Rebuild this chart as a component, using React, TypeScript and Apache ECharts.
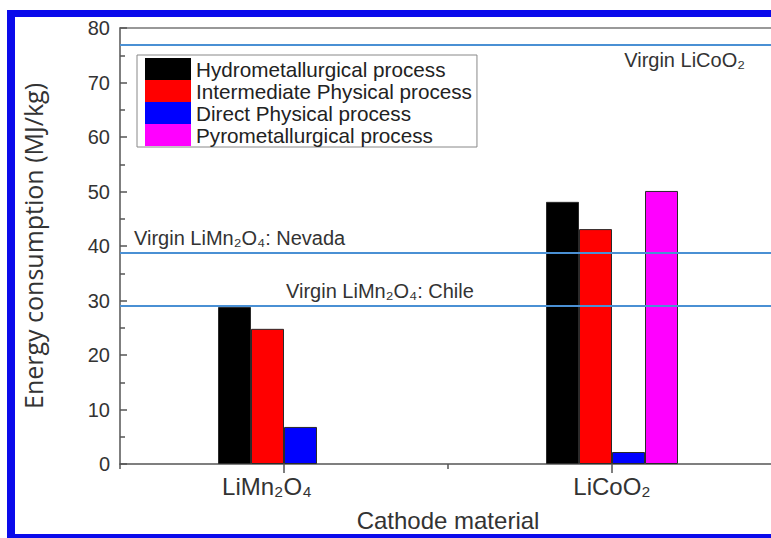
import React, { useEffect, useRef } from "react";
import * as echarts from "echarts";

const categories = ["LiMn₂O₄", "LiCoO₂"];
const seriesNames = [
  "Hydrometallurgical process",
  "Intermediate Physical process",
  "Direct Physical process",
  "Pyrometallurgical process",
];
const hydro = [28.8, 48.1];
const intermediate = [24.8, 43.1];
const direct = [6.8, 2.2];
const pyro: (number | null)[] = [null, 50.1];
const barColors = ["#000000", "#ff0000", "#0000ff", "#ff00ff"];
const refNames = ["Virgin LiCoO₂", "Virgin LiMn₂O₄: Nevada", "Virgin LiMn₂O₄: Chile"];
const refValues = [76.9, 38.7, 29.0];
const yTicks = { min: 0, max: 80, interval: 10 };

const SANS = "'Liberation Sans', Arial, sans-serif";

export default function App() {
  const ref = useRef<HTMLDivElement>(null);
  useEffect(() => {
    if (!ref.current) return;
    const chart = echarts.init(ref.current, null, { renderer: "svg" });
    const values = [hydro, intermediate, direct, pyro];
    const refLabelCfg = [
      { position: "insideEndBottom", distance: [31, 5] },
      { position: "insideStartTop", distance: [14, 5] },
      { position: "insideStartTop", distance: [166, 5] },
    ];
    const series: any[] = seriesNames.map((name, i) => ({
      name,
      type: "bar",
      xAxisIndex: 0,
      barWidth: 33,
      barGap: "0%",
      data: values[i],
      itemStyle: { color: barColors[i], borderColor: "#2a2a2a", borderWidth: 1 },
      z: 3,
    }));
    series[0].markLine = {
      silent: true,
      symbol: "none",
      lineStyle: { color: "#4a90d4", width: 2, type: "solid" },
      data: refValues.map((v, i) => ({
        yAxis: v,
        label: {
          show: true,
          formatter: refNames[i],
          position: refLabelCfg[i].position,
          distance: refLabelCfg[i].distance,
          fontSize: 20,
          fontFamily: SANS,
          color: "#333",
        },
      })),
    };
    chart.setOption({
      animation: false,
      backgroundColor: "#ffffff",
      grid: { left: 120, top: 28, right: 0, bottom: 74 },
      legend: {
        orient: "vertical",
        left: 137,
        top: 55,
        itemWidth: 46,
        itemHeight: 22,
        itemGap: 0,
        padding: [3, 5, 1, 8],
        borderColor: "#888",
        borderWidth: 1,
        backgroundColor: "#fff",
        icon: "rect",
        itemStyle: { borderWidth: 0 },
        textStyle: { fontSize: 20.7, lineHeight: 22, color: "#222", fontFamily: SANS },
        data: seriesNames,
      },
      xAxis: [
        {
          type: "category",
          data: categories,
          position: "bottom",
          axisLine: { show: true, lineStyle: { color: "#555", width: 1.5 } },
          axisTick: { show: true, alignWithLabel: true, length: 9, lineStyle: { color: "#555", width: 1.5 } },
          axisLabel: {
            fontSize: 24,
            fontFamily: SANS,
            color: "#333",
            margin: 10,
            formatter: (v: string) => (v === categories[0] ? `{m|${v}}` : `{c|${v}}`),
            rich: {
              m: { fontSize: 24, fontFamily: SANS, color: "#333", padding: [0, 34, 0, 0] },
              c: { fontSize: 24, fontFamily: SANS, color: "#333" },
            },
          },
          name: "Cathode material",
          nameLocation: "middle",
          nameGap: 44,
          nameTextStyle: { fontSize: 24, fontFamily: SANS, color: "#333" },
        },
        {
          type: "category",
          data: categories,
          position: "bottom",
          axisLine: { show: false },
          axisTick: { show: true, alignWithLabel: false, length: 5, lineStyle: { color: "#555", width: 1.5 } },
          axisLabel: { show: false },
        },
        {
          type: "category",
          data: categories,
          position: "top",
          axisLine: { show: true, lineStyle: { color: "#777", width: 1.5 } },
          axisTick: { show: false },
          axisLabel: { show: false },
        },
      ],
      yAxis: {
        type: "value",
        min: yTicks.min,
        max: yTicks.max,
        interval: yTicks.interval,
        splitLine: { show: false },
        axisLine: { show: true, lineStyle: { color: "#555", width: 1.5 } },
        axisTick: { show: true, inside: true, length: 7, lineStyle: { color: "#555", width: 1.5 } },
        minorTick: { show: true, splitNumber: 2, length: 5, lineStyle: { color: "#555", width: 1.5 } },
        axisLabel: { fontSize: 20, fontFamily: SANS, color: "#333", margin: 10 },
        name: "Energy consumption (MJ/kg)",
        nameLocation: "middle",
        nameRotate: 90,
        nameGap: 75,
        nameTextStyle: { fontSize: 25, fontFamily: "'Open Sans', sans-serif", color: "#333" },
      },
      graphic: [
        { type: "rect", z: 100, shape: { x: 7, y: 10, width: 8, height: 528 }, style: { fill: "#0a0aeb" } },
        { type: "rect", z: 100, shape: { x: 7, y: 10, width: 770, height: 7 }, style: { fill: "#0a0aeb" } },
        { type: "rect", z: 100, shape: { x: 7, y: 534, width: 770, height: 4 }, style: { fill: "#0a0aeb" } },
      ],
      series,
    });
    return () => chart.dispose();
  }, []);
  return (
    <div style={{ position: "absolute", left: 0, top: 0, width: 771, height: 538, overflow: "hidden" }}>
      <div ref={ref} style={{ width: 776, height: 538 }} />
    </div>
  );
}
